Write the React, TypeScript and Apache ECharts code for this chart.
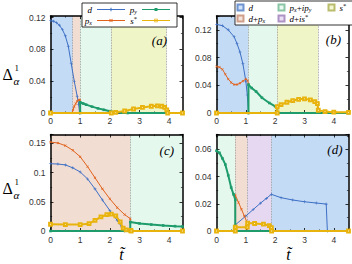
import { useEffect, useRef } from "react";
import * as echarts from "echarts";

// ---------------- data (t, Δ) ----------------
const aD = [[0,0.116],[0.1,0.1155],[0.2,0.1135],[0.3,0.1105],[0.4,0.105],[0.5,0.097],[0.6,0.084],[0.7,0.062],[0.8,0.04],[0.9,0.021],[0.95,0.011],[0.98,0],[4.45,0]];
const aPx = [[0,0],[0.73,0],[0.76,0.004],[0.8,0.008],[0.85,0.012],[0.9,0.0148],[0.95,0.0163],[0.99,0.0165],[1.0,0],[4.45,0]];
const aPy = [[0,0],[1.0,0],[1.0,0.0135],[1.1,0.012],[1.2,0.0105],[1.4,0.008],[1.6,0.0058],[1.8,0.004],[2.0,0.0023],[2.2,0.0011],[2.4,0.0004],[2.6,0],[4.45,0]];
const aS = [[0,0],[2.05,0],[2.2,0.0008],[2.5,0.0025],[2.8,0.005],[3.1,0.007],[3.4,0.0085],[3.6,0.009],[3.75,0.0085],[3.85,0.007],[3.92,0.004],[3.95,0],[4.45,0]];

const bD = [[0,0.128],[0.2,0.126],[0.4,0.12],[0.6,0.11],[0.7,0.1],[0.8,0.088],[0.9,0.071],[1.0,0.046],[1.05,0.026],[1.09,0],[4.5,0]];
const bPx = [[0,0.067],[0.1,0.066],[0.2,0.063],[0.3,0.056],[0.4,0.049],[0.5,0.044],[0.6,0.041],[0.7,0.041],[0.8,0.043],[0.9,0.046],[1.0,0.049],[1.06,0.047],[1.09,0.042],[1.09,0],[4.5,0]];
const bPy = [[0,0],[1.09,0],[1.09,0.041],[1.2,0.036],[1.35,0.031],[1.55,0.022],[1.8,0.0145],[2.0,0.0097],[2.07,0.008],[2.07,0],[4.5,0]];
const bS = [[0,0],[2.07,0],[2.07,0.009],[2.2,0.012],[2.4,0.0155],[2.6,0.018],[2.8,0.0198],[3.0,0.0204],[3.2,0.019],[3.35,0.0165],[3.44,0.0135],[3.47,0.004],[3.7,0.002],[4.0,0.0012],[4.5,0.001]];

const cD = [[0,0.115],[0.25,0.1145],[0.5,0.113],[0.75,0.108],[1.0,0.101],[1.25,0.089],[1.5,0.072],[1.75,0.053],[2.0,0.035],[2.25,0.018],[2.4,0.007],[2.5,0],[4.45,0]];
const cPx = [[0,0.152],[0.25,0.1505],[0.5,0.146],[0.75,0.138],[1.0,0.127],[1.25,0.11],[1.5,0.091],[1.75,0.072],[2.0,0.055],[2.25,0.04],[2.5,0.028],[2.69,0.021],[2.69,0],[4.45,0]];
const cPy = [[0,0],[2.69,0],[2.69,0.0155],[3.0,0.013],[3.4,0.011],[3.8,0.0095],[4.2,0.0083],[4.45,0.0076]];
const cS = [[0,0.0115],[0.5,0.011],[1.0,0.011],[1.3,0.0125],[1.5,0.018],[1.7,0.024],[1.9,0.028],[2.05,0.029],[2.2,0.026],[2.35,0.0155],[2.45,0.005],[2.55,0.002],[2.7,0.001],[2.72,0],[4.45,0]];

const dD = [[0,0],[0.64,0],[0.64,0.0045],[1.0,0.011],[1.25,0.0158],[1.5,0.0205],[1.7,0.024],[1.87,0.027],[2.2,0.0245],[2.6,0.0228],[3.0,0.0215],[3.4,0.0206],[3.74,0.0198],[3.78,0],[4.5,0]];
const dPx = [[0,0],[0.64,0],[0.64,0.0265],[0.75,0.021],[0.85,0.016],[0.95,0.011],[1.05,0.006],[1.05,0],[4.5,0]];
const dPy = [[0,0.059],[0.1,0.0575],[0.2,0.0535],[0.3,0.049],[0.4,0.041],[0.5,0.032],[0.58,0.027],[0.64,0.023],[0.64,0],[4.5,0]];
const dS = [[0,0],[0.64,0],[0.64,0.0028],[1.05,0.0028],[1.06,0.0058],[1.3,0.0055],[1.6,0.005],[1.8,0.004],[1.87,0.0025],[1.88,0],[4.5,0]];

// phase regions [from, to, phase]
const aRegions: [number, number, string][] = [[0,0.75,"d"],[0.75,1.0,"dpx"],[1.0,2.05,"pxpy"],[2.05,3.9,"s"]];
const bRegions: [number, number, string][] = [[0,1.09,"d"],[1.09,2.07,"pxpy"],[2.07,3.46,"s"]];
const cRegions: [number, number, string][] = [[0,2.69,"dpx"],[2.69,4.45,"pxpy"]];
const dRegions: [number, number, string][] = [[0,0.64,"pxpy"],[0.64,1.05,"dpx"],[1.05,1.87,"dis"],[1.87,4.5,"d"]];

const xMaxs = [4.45, 4.5, 4.45, 4.5];
const yMaxs = [0.122, 0.14, 0.165, 0.071];
const yIntervals = [0.04, 0.04, 0.05, 0.02];
const xInterval = 1;
const panelLabels = ["(a)", "(b)", "(c)", "(d)"];
const seriesNames = ["d", "p_x", "p_y", "s*"];
const regionNames = ["Rd", "Rpxpy", "Rs", "Rdpx", "Rdis"];
const regionKeys = ["d", "pxpy", "s", "dpx", "dis"];

const panelData = [
  [aD, aPx, aPy, aS],
  [bD, bPx, bPy, bS],
  [cD, cPx, cPy, cS],
  [dD, dPx, dPy, dS],
];
const panelRegions = [aRegions, bRegions, cRegions, dRegions];

// ---------------- styles ----------------
const LINE_COLORS = ["#3d6fc4", "#e0621c", "#1e9c6c", "#e8b30c"];
const LINE_WIDTHS = [1, 1, 2, 2];
const PLUS = "path://M4,0H6V4H10V6H6V10H4V6H0V4H4Z";
const SYMBOLS = [PLUS, PLUS, "rect", "emptyRect"];
const SYMBOL_ROT = [0, 45, 0, 0];
const SYMBOL_SIZE = [3, 3, 2.6, 2.8];
// legend keys: a thin line with a small marker in its middle (28 x 4 box)
const LINE_BAR = "M0,1.6H28V2.4H0Z";
const LEGEND_ICONS = [
  "path://" + LINE_BAR + "M13.5,0.2H14.5V3.8H13.5ZM12.2,1.5H15.8V2.5H12.2Z",
  "path://" + LINE_BAR + "M12.2,0.8L12.8,0.2L15.8,3.2L15.2,3.8ZM15.2,0.2L15.8,0.8L12.8,3.8L12.2,3.2Z",
  "path://" + LINE_BAR + "M12.5,0.5H15.5V3.5H12.5Z",
  "path://" + LINE_BAR + "M12.3,0.3H15.7V3.7H12.3ZM12.9,0.9V3.1H15.1V0.9Z",
];
const REGION_FILL: Record<string, string> = { d: "#c4dbf6", dpx: "#f2ddd3", pxpy: "#e5f8ee", s: "#f0f5c8", dis: "#e6d8f1" };
const REGION_STROKE: Record<string, string> = { d: "#4f7cc6", dpx: "#c48a72", pxpy: "#6fb890", s: "#a9ad4c", dis: "#9c7bb8" };

const GRIDS = [
  { left: 50.5, top: 16, width: 132, height: 97 },
  { left: 216.5, top: 16, width: 132, height: 97 },
  { left: 50.5, top: 134.5, width: 132, height: 96.5 },
  { left: 216.5, top: 134.5, width: 132, height: 96.5 },
];

const SERIF = "'Liberation Serif', 'DejaVu Serif', serif";
const SANS = "'Liberation Sans', Arial, sans-serif";

const rich = {
  i: { fontFamily: SERIF, fontStyle: "italic", fontSize: 9, lineHeight: 11, color: "#000" },
  n: { fontFamily: SERIF, fontSize: 9, lineHeight: 11, color: "#000" },
  b: { fontFamily: SERIF, fontStyle: "italic", fontSize: 6, lineHeight: 7, verticalAlign: "bottom", color: "#000" },
  t: { fontFamily: SERIF, fontSize: 6.5, lineHeight: 7, verticalAlign: "top", color: "#000" },
};

const LEGEND_TEXT: Record<string, string> = {
  d: "{i|d}",
  p_x: "{i|p}{b|x}",
  p_y: "{i|p}{b|y}",
  "s*": "{i|s}{t|*}",
  Rd: "{i|d}",
  Rdpx: "{i|d}{n|+}{i|p}{b|x}",
  Rpxpy: "{i|p}{b|x}{n|+}{i|ip}{b|y}",
  Rs: "{i|s}{t|*}",
  Rdis: "{i|d}{n|+}{i|is}{t|*}",
};

const isMultiple = (v: number, iv: number) => Math.abs(v / iv - Math.round(v / iv)) < 1e-6;
const fmt = (v: number) => String(+v.toFixed(4));

function buildOption() {
  const xAxis: any[] = [];
  const yAxis: any[] = [];
  GRIDS.forEach((_, i) => {
    const common = {
      type: "value",
      gridIndex: i,
      z: 2,
      splitLine: { show: false },
      minorSplitLine: { show: false },
      axisLine: { show: true, onZero: false, lineStyle: { color: "#000", width: 1.5 } },
      axisTick: { show: true, inside: true, length: 3, lineStyle: { color: "#000", width: 0.8 } },
      minorTick: { show: true, splitNumber: 2, length: 1.6, lineStyle: { color: "#000", width: 0.6 } },
    };
    const xc = { ...common, min: 0, max: xMaxs[i], interval: xInterval };
    xAxis.push({
      ...xc,
      position: "bottom",
      axisLabel: {
        show: true, margin: i < 2 ? 3 : 4, fontSize: 8.5, color: "#333", fontFamily: SANS,
        formatter: (v: number) => (isMultiple(v, xInterval) ? fmt(v) : ""),
      },
    });
    xAxis.push({ ...xc, position: "top", axisLabel: { show: false } });
    const yc = { ...common, min: 0, max: yMaxs[i], interval: yIntervals[i] };
    yAxis.push({
      ...yc,
      position: "left",
      axisLabel: {
        show: true, margin: 5, fontSize: 8.5, color: "#333", fontFamily: SANS,
        formatter: (v: number) => (isMultiple(v, yIntervals[i]) ? fmt(v) : ""),
      },
    });
    yAxis.push({ ...yc, position: "right", axisLabel: { show: false } });
  });

  const series: any[] = [];
  panelData.forEach((arrs, pi) => {
    const regions = panelRegions[pi];
    const bounds = regions.map((r) => r[1]).filter((b) => b < xMaxs[pi] - 0.01);
    arrs.forEach((data, k) => {
      const s: any = {
        type: "line",
        name: seriesNames[k],
        xAxisIndex: 2 * pi,
        yAxisIndex: 2 * pi,
        data,
        z: 3 + k,
        silent: true,
        symbol: SYMBOLS[k],
        symbolSize: SYMBOL_SIZE[k],
        symbolRotate: SYMBOL_ROT[k],
        showSymbol: true,
        lineStyle: { color: LINE_COLORS[k], width: LINE_WIDTHS[k] },
        itemStyle: { color: LINE_COLORS[k] },
        emphasis: { disabled: true },
      };
      if (k === 0) {
        s.markArea = {
          silent: true,
          z: 1,
          data: regions.map((r) => [
            { xAxis: r[0], itemStyle: { color: REGION_FILL[r[2]] } },
            { xAxis: r[1] },
          ]),
        };
        s.markLine = {
          silent: true,
          z: 2,
          symbol: ["none", "none"],
          label: { show: false },
          lineStyle: { type: "dotted", color: "#8a8a8a", width: 0.8 },
          data: bounds.map((b) => ({ xAxis: b })),
        };
      }
      series.push(s);
    });
  });
  regionNames.forEach((name, k) => {
    series.push({
      type: "scatter",
      name,
      data: [],
      itemStyle: { color: REGION_FILL[regionKeys[k]], borderColor: REGION_STROKE[regionKeys[k]], borderWidth: 0.8 },
    });
  });

  const tw = (w: number) => ({ width: w, backgroundColor: "rgba(0,0,0,0)", rich });
  const legendA = {
    data: [
      { name: "d", textStyle: tw(9), icon: LEGEND_ICONS[0] },
      { name: "p_y", textStyle: tw(12), icon: LEGEND_ICONS[2] },
      { name: "\n" },
      { name: "p_x", textStyle: tw(9), icon: LEGEND_ICONS[1] },
      { name: "s*", textStyle: tw(12), icon: LEGEND_ICONS[3] },
    ],
    left: 82, top: 3, orient: "horizontal", align: "right",
    itemWidth: 28, itemHeight: 4, itemGap: 0,
    padding: [1, 7, 1, 1],
    borderColor: "#000", borderWidth: 0.8, backgroundColor: "#fff",
    itemStyle: { borderWidth: 0 },
    selectedMode: false, z: 6,
    formatter: (n: string) => LEGEND_TEXT[n] || n,
    textStyle: { rich },
  };
  const legendB = {
    data: [
      { name: "Rd", textStyle: tw(29) },
      { name: "Rpxpy", textStyle: tw(38) },
      { name: "Rs", textStyle: tw(12) },
      { name: "\n" },
      { name: "Rdpx", textStyle: tw(29) },
      { name: "Rdis", textStyle: tw(38) },
    ],
    left: 235, top: 1, orient: "horizontal", align: "left", icon: "rect",
    itemWidth: 6, itemHeight: 6, itemGap: 0,
    padding: [1, 1, 1, 1.5],
    borderColor: "#000", borderWidth: 0.8, backgroundColor: "#fff",
    selectedMode: false, z: 6,
    formatter: (n: string) => LEGEND_TEXT[n] || n,
    textStyle: { rich },
  };

  const txt = (text: string, x: number, y: number, size: number, italic: boolean, align = "left") => ({
    type: "text", x, y, z: 10, silent: true,
    style: {
      text, fontSize: size, fontFamily: SERIF, fontStyle: italic ? "italic" : "normal", fill: "#000",
      align, textAlign: align, verticalAlign: "middle", textVerticalAlign: "middle",
    },
  });
  const graphic: any[] = [
    txt("Δ", 2.5, 74, 16, false), txt("1", 14.5, 67.5, 9, false), txt("α", 13.5, 81, 11, true),
    txt("Δ", 2.5, 188, 16, false), txt("1", 14.5, 181.5, 9, false), txt("α", 13.5, 195, 11, true),
    txt(panelLabels[0], 167, 40, 13, true, "right"),
    txt(panelLabels[1], 341, 39, 13, true, "right"),
    txt(panelLabels[2], 174, 150, 13, true, "right"),
    txt(panelLabels[3], 342.5, 149.5, 13, true, "right"),
    txt("t\u0303", 121.5, 254, 16, true, "center"),
    txt("t\u0303", 288.5, 254, 16, true, "center"),
  ];

  return {
    animation: false,
    backgroundColor: "#fff",
    grid: GRIDS.map((g) => ({ ...g, containLabel: false })),
    xAxis, yAxis, series,
    legend: [legendA, legendB],
    graphic,
  };
}

export default function App() {
  const ref = useRef<HTMLDivElement>(null);
  useEffect(() => {
    document.body.style.margin = "0";
    const chart = echarts.init(ref.current!, undefined, { renderer: "svg" });
    chart.setOption(buildOption() as any);
    return () => chart.dispose();
  }, []);
  return <div ref={ref} style={{ position: "fixed", left: 0, top: 0, width: 352, height: 264 }} />;
}
